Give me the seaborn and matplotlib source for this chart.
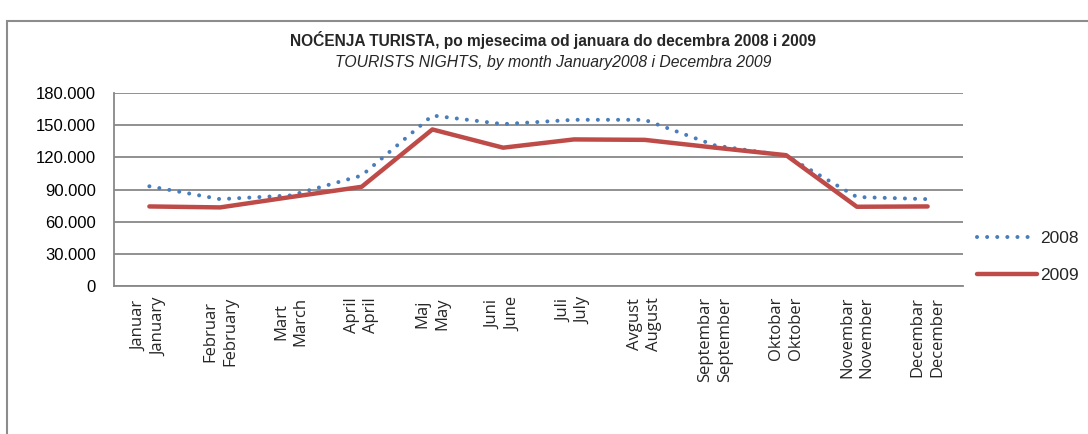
import matplotlib
matplotlib.use("Agg")
import matplotlib.pyplot as plt
import matplotlib.patches as mpatches
from matplotlib.ticker import FuncFormatter, MultipleLocator
import seaborn as sns
import pandas as pd

months = ["Januar\nJanuary", "Februar\nFebruary", "Mart\nMarch", "April\nApril",
          "Maj\nMay", "Juni\nJune", "Juli\nJuly", "Avgust\nAugust",
          "Septembar\nSeptember", "Oktobar\nOktober", "Novembar\nNovember",
          "Decembar\nDecember"]
nights_2008 = [93000, 81000, 84500, 103000, 159000, 151000, 155000, 155000,
               131000, 121500, 83000, 81000]
nights_2009 = [74200, 73300, 83000, 92500, 146000, 129000, 136700, 136300,
               129000, 122000, 73900, 74200]

df = pd.DataFrame({
    "month": months * 2,
    "nights": nights_2008 + nights_2009,
    "year": ["2008"] * 12 + ["2009"] * 12,
})

sns.set_theme(style="white")
plt.rcParams['font.family'] = ['Liberation Sans', 'DejaVu Sans']

fig = plt.figure(figsize=(10.88, 4.34), dpi=100)
ax = fig.add_axes([114/1088, 1 - 286/434, (963-114)/1088, (286-93)/434])

blue = "#4A7EBB"
red = "#BE4B48"

sns.lineplot(data=df[df.year == "2008"], x="month", y="nights", ax=ax, sort=False,
             color=blue, linewidth=2.9, label="2008",
             linestyle=(0, (0.01, 2.5)), dash_capstyle="round")
sns.lineplot(data=df[df.year == "2009"], x="month", y="nights", ax=ax, sort=False,
             color=red, linewidth=3.2, label="2009", solid_capstyle="round")

ax.set_xlim(-0.5, 11.5)
ax.set_ylim(0, 180000)
ax.yaxis.set_major_locator(MultipleLocator(30000))
ax.yaxis.set_major_formatter(FuncFormatter(lambda v, p: f"{int(v):,}".replace(",", ".")))
ax.grid(axis="y", color="#888888", linewidth=1.3)
ax.set_axisbelow(True)
ax.set_xlabel("")
ax.set_ylabel("")
for s in ["top", "right"]:
    ax.spines[s].set_visible(False)
for s in ["left", "bottom"]:
    ax.spines[s].set_color("#888888")
    ax.spines[s].set_linewidth(1.3)
ax.tick_params(axis="y", labelsize=12, length=0, pad=13, colors="black")
ax.tick_params(axis="x", length=0, pad=8)
for lab in ax.get_xticklabels():
    lab.set_rotation(90)
    lab.set_fontfamily(["Open Sans", "DejaVu Sans"])
    lab.set_fontsize(12)
    lab.set_linespacing(1.3)
    lab.set_va("top")
    lab.set_ha("center")

ax.get_legend().remove()
h, l = ax.get_legend_handles_labels()
fig.legend(h, l, loc="center left", bbox_to_anchor=(961/1088, 1 - 257/434),
           frameon=False, fontsize=12.5, handlelength=3.5, handletextpad=0.15,
           labelspacing=1.25)

fig.text(553/1088, 1 - 40/434, "NOĆENJA TURISTA, po mjesecima od januara do decembra 2008 i 2009",
         ha="center", va="center", fontsize=11.2, fontweight="bold")
fig.text(553/1088, 1 - 62/434, "TOURISTS NIGHTS, by month January2008 i Decembra 2009",
         ha="center", va="center", fontsize=11.3, fontstyle="italic")

top = 1 - 21/434
border = mpatches.Rectangle((7/1088, -0.2), 1.2, top + 0.2, transform=fig.transFigure,
                            fill=False, edgecolor="#8c8c8c", linewidth=1.5, clip_on=False)
fig.patches.append(border)

fig.savefig("out.png", dpi=100)
